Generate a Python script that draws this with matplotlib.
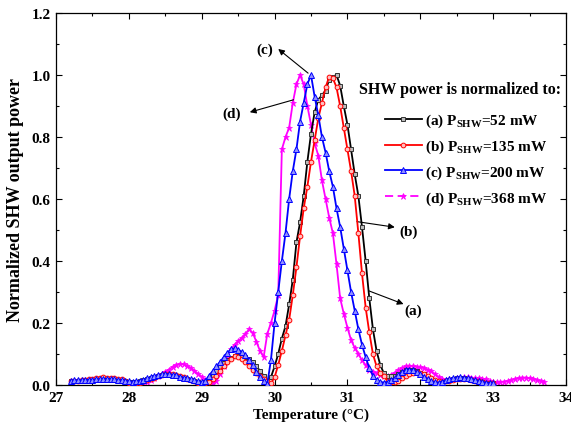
import numpy as np
import matplotlib
matplotlib.use('Agg')
import matplotlib.pyplot as plt
from matplotlib.lines import Line2D
from matplotlib.ticker import MultipleLocator, FormatStrFormatter

# ---------------- data ----------------
temp_abc = np.round(np.arange(27.20, 33.001, 0.05), 2)   # 117 samples
temp_d = np.round(np.arange(28.20, 33.701, 0.05), 2)     # 111 samples

shw_a = [  # P_SHW = 52 mW
    .012, .013, .013, .014, .014, .015, .015, .016, .017, .018,
    .018, .017, .016, .015, .014, .012, .010, .009, .010, .012,
    .015, .019, .023, .027, .030, .032, .033, .033, .031, .029,
    .025, .022, .019, .016, .013, .010, .008, .010, .020, .032,
    .045, .058, .070, .080, .087, .092, .094, .093, .090, .083,
    .073, .060, .046, .030, .012, .025, .060, .100, .150, .190,
    .260, .340, .460, .525, .610, .720, .810, .880, .920, .935,
    .950, .985, .995, 1.000, .966, .900, .840, .760, .680, .610,
    .510, .400, .280, .180, .110, .065, .038, .030, .028, .030,
    .036, .043, .048, .050, .048, .044, .040, .034, .027, .020,
    .014, .010, .010, .013, .016, .019, .021, .022, .021, .019,
    .016, .013, .011, .009, .007, .006, .005]

shw_b = [  # P_SHW = 135 mW
    .012, .013, .014, .015, .016, .018, .020, .022, .024, .025,
    .024, .023, .022, .020, .018, .012, .006, .004, .005, .008,
    .012, .016, .020, .024, .028, .032, .035, .037, .036, .033,
    .030, .025, .020, .016, .012, .007, .004, .005, .010, .018,
    .030, .046, .060, .074, .085, .093, .091, .085, .075, .060,
    .048, .040, .030, .020, .012, .005, .025, .065, .110, .160,
    .210, .290, .380, .480, .570, .640, .720, .790, .860, .910,
    .960, .995, .990, .960, .900, .830, .760, .690, .610, .490,
    .360, .250, .170, .100, .060, .040, .030, .012, .010, .011,
    .014, .022, .030, .036, .040, .041, .040, .035, .028, .021,
    .015, .012, .011, .012, .014, .016, .018, .019, .019, .018,
    .016, .014, .012, .010, .008, .006, .005]

shw_c = [  # P_SHW = 200 mW
    .014, .015, .015, .016, .016, .017, .017, .018, .019, .020,
    .020, .019, .018, .017, .016, .014, .012, .011, .012, .014,
    .017, .021, .025, .029, .032, .034, .035, .035, .033, .031,
    .027, .024, .021, .018, .015, .012, .010, .014, .030, .045,
    .060, .074, .089, .104, .115, .118, .114, .107, .096, .082,
    .063, .043, .026, .014, .004, .080, .200, .300, .400, .490,
    .600, .690, .760, .850, .910, .970, 1.000, .930, .870, .800,
    .750, .690, .640, .570, .510, .440, .370, .300, .240, .180,
    .130, .090, .055, .030, .017, .010, .008, .010, .015, .022,
    .032, .042, .048, .050, .048, .042, .035, .027, .020, .013,
    .009, .008, .011, .015, .019, .022, .024, .025, .024, .022,
    .019, .016, .013, .010, .008, .006, .005]

shw_d = [  # P_SHW = 368 mW
    .008, .010, .015, .022, .028, .035, .043, .050, .058, .064,
    .068, .067, .062, .055, .046, .036, .027, .017, .010, .008,
    .012, .035, .062, .090, .115, .130, .142, .152, .165, .180,
    .168, .140, .110, .090, .165, .200, .240, .290, .760, .800,
    .830, .910, .970, 1.000, .970, .900, .840, .780, .740, .660,
    .600, .540, .490, .390, .280, .230, .185, .145, .120, .100,
    .080, .063, .050, .043, .038, .032, .028, .028, .033, .040,
    .048, .055, .060, .062, .061, .059, .057, .055, .050, .044,
    .035, .026, .020, .017, .018, .020, .022, .024, .025, .025,
    .024, .022, .021, .020, .018, .014, .010, .009, .010, .011,
    .013, .016, .019, .022, .024, .024, .022, .020, .016, .013,
    .010]

legend_title = 'SHW power is normalized to:'
labels = [r'(a) P$_{\mathbf{SHW}}$=52 mW',
          r'(b) P$_{\mathbf{SHW}}$=135 mW',
          r'(c) P$_{\mathbf{SHW}}$=200 mW',
          r'(d) P$_{\mathbf{SHW}}$=368 mW']
xticks = [27, 28, 29, 30, 31, 32, 33, 34]
yticks = [0.0, 0.2, 0.4, 0.6, 0.8, 1.0, 1.2]

# ---------------- style ----------------
plt.rcParams['font.family'] = ['Liberation Serif', 'DejaVu Serif']
plt.rcParams['font.weight'] = 'bold'
plt.rcParams['mathtext.fontset'] = 'custom'
plt.rcParams['mathtext.rm'] = 'Liberation Serif:bold'
plt.rcParams['mathtext.bf'] = 'Liberation Serif:bold'
plt.rcParams['mathtext.it'] = 'Liberation Serif:bold:italic'

fig = plt.figure(figsize=(5.71, 4.27), dpi=100)
ax = fig.add_axes([56/571, 1-386/427, (566-56)/571, (386-14)/427])

lw = 1.3
ms = 3.4
ax.plot(temp_abc, shw_a, color='black', lw=lw, marker='s', ms=ms, mfc='#bbbbbb', mec='#333333', mew=0.7, zorder=3)
ax.plot(temp_abc, shw_b, color='red', lw=lw, marker='o', ms=ms, mfc='#ffc0c0', mec='red', mew=0.7, zorder=4)
ax.plot(temp_abc, shw_c, color='blue', lw=lw, marker='^', ms=ms+0.4, mfc='#9090ff', mec='blue', mew=0.7, zorder=5)
ax.plot(temp_d, shw_d, color='magenta', lw=lw, marker='*', ms=ms+1.2, mfc='magenta', mec='magenta', mew=0.5, zorder=2)

ax.set_xlim(27, 34)
ax.set_ylim(0, 1.2)
ax.set_xticks(xticks)
ax.set_yticks(yticks)
ax.yaxis.set_major_formatter(FormatStrFormatter('%.1f'))
ax.xaxis.set_minor_locator(MultipleLocator(0.5))
ax.yaxis.set_minor_locator(MultipleLocator(0.1))
ax.tick_params(which='both', direction='in', top=True, right=True, labelsize=11, width=0.8)
ax.tick_params(which='major', length=4, pad=4)
ax.tick_params(which='minor', length=2.5)
for s in ax.spines.values():
    s.set_linewidth(0.9)

ax.set_xlabel('Temperature (°C)', fontsize=11, fontweight='bold', labelpad=3)
ax.set_ylabel('Normalized SHW output power', fontsize=13, fontweight='bold', labelpad=5)

# annotations
arrow = dict(arrowstyle='-|>', color='black', lw=0.8, mutation_scale=9, shrinkA=0, shrinkB=0)
ann = [('(c)', (29.87, 1.084), (30.46, 1.006), (30.05, 1.084)),
       ('(d)', (29.41, 0.877), (30.26, 0.92), (29.66, 0.88)),
       ('(b)', (31.84, 0.496), (31.13, 0.527), (31.65, 0.509)),
       ('(a)', (31.90, 0.240), (31.29, 0.304), (31.77, 0.261))]
for txt, tpos, tail, head in ann:
    ax.annotate('', xy=head, xytext=tail, arrowprops=arrow)
    ax.text(tpos[0], tpos[1], txt, fontsize=11, fontweight='bold', ha='center', va='center')

# legend title (separate, wider than the entries)
fig.text(460/571, 1-90/427, legend_title, fontsize=11.5, fontweight='bold', ha='center', va='center')

handles = [
    Line2D([], [], color='black', lw=lw, marker='s', ms=ms, mfc='#bbbbbb', mec='#333333', mew=0.7),
    Line2D([], [], color='red', lw=lw, marker='o', ms=ms, mfc='#ffc0c0', mec='red', mew=0.7),
    Line2D([], [], color='blue', lw=lw, marker='^', ms=ms+0.4, mfc='#9090ff', mec='blue', mew=0.7),
    Line2D([], [], color='magenta', lw=lw, ls=(0, (4.5, 2.5)), marker='*', ms=ms+1.2, mfc='magenta', mec='magenta', mew=0.5),
]
leg = ax.legend(handles, labels, loc='upper left',
                bbox_to_anchor=(385/571, 1-113/427), bbox_transform=fig.transFigure,
                frameon=False, fontsize=11,
                handlelength=2.4, handletextpad=0.2, labelspacing=0.55, borderaxespad=0, borderpad=0.0)

fig.savefig('out.png', dpi=100)
